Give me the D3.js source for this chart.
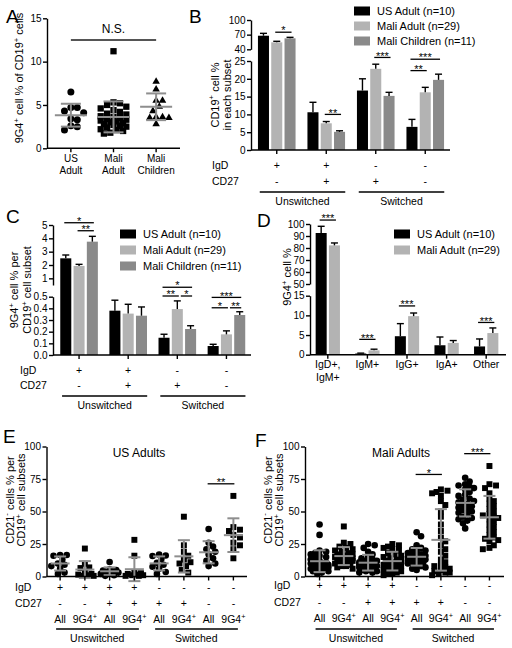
<!DOCTYPE html>
<html><head><meta charset="utf-8">
<script src="https://cdn.jsdelivr.net/npm/d3@7"></script>
<style>body{margin:0;background:#fff}svg{display:block}</style>
</head><body><svg id="c" width="512" height="648"></svg>
<script>
// ---------------- DATA ----------------
// Panel A
const catsA = ["US|Adult", "Mali|Adult", "Mali|Children"];
const aUS = [6.5, 4.7, 4.7, 4.3, 4.1, 3.4, 3.3, 2.6, 2.5, 2.1];
const aMaliAdult = [11.2, 5.3, 5.2, 5.0, 4.8, 4.6, 4.4, 4.2, 4.0, 3.9, 3.7, 3.6, 3.5, 3.4, 3.3, 3.2, 3.1, 3.0, 2.9, 2.8, 2.7, 2.6, 2.5, 2.4, 2.2, 2.1, 2.0, 1.8, 1.7];
const aMaliChild = [7.8, 6.9, 5.6, 5.6, 4.9, 4.4, 3.7, 3.6, 3.7, 3.6, 2.9];
const ticksA = [0, 5, 10, 15];

// Shared series / subsets
const seriesNames = ["US Adult (n=10)", "Mali Adult (n=29)", "Mali Children (n=11)"];
const seriesColors = ["#000000", "#b3b3b3", "#8a8a8a"];
const subsets = ["IgD+CD27-", "IgD+CD27+", "IgD-CD27+", "IgD-CD27-"];
const igdRow = ["+", "+", "-", "-"];
const cd27Row = ["-", "+", "+", "-"];

// Panel B
const bUS = [67.8, 10.6, 16.7, 6.5], bUSerr = [4.9, 2.8, 3.3, 2.1];
const bMaliAdult = [54.3, 7.5, 22.8, 16.2], bMaliAdultErr = [2.1, 0.5, 1.3, 1.4];
const bMaliChild = [62.5, 5.1, 15.2, 19.7], bMaliChildErr = [2.0, 0.3, 1.0, 1.6];
const ticksBbot = [0, 5, 10, 15, 20, 25], ticksBtop = [40, 70, 100];
const sigB = [{g:0,a:1,b:2,v:75,s:1,t:"*"},{g:1,a:1,b:2,v:10.0,s:0,t:"**"},{g:2,a:1,b:2,v:26.0,s:0,t:"***"},
              {g:3,a:0,b:2,v:25.5,s:0,t:"***"},{g:3,a:0,b:1,v:22.3,s:0,t:"**"}];

// Panel C
const cUS = [2.5, 0.38, 0.148, 0.077], cUSerr = [0.25, 0.09, 0.03, 0.015];
const cMaliAdult = [1.93, 0.355, 0.394, 0.177], cMaliAdultErr = [0.12, 0.08, 0.07, 0.03];
const cMaliChild = [3.75, 0.337, 0.223, 0.343], cMaliChildErr = [0.4, 0.075, 0.028, 0.028];
const ticksCbot = [0, 0.1, 0.2, 0.3, 0.4, 0.5], ticksCtop = [1, 2, 3, 4, 5];
const sigC = [{g:0,a:0,b:2,v:5.17,s:1,t:"*"},{g:0,a:1,b:2,v:4.57,s:1,t:"**"},
              {g:2,a:0,b:2,v:0.581,s:0,t:"*"},{g:2,a:0,b:1,v:0.506,s:0,t:"**"},{g:2,a:1,b:2,v:0.506,s:0,t:"*"},
              {g:3,a:0,b:2,v:0.494,s:0,t:"***"},{g:3,a:0,b:1,v:0.405,s:0,t:"*"},{g:3,a:1,b:2,v:0.405,s:0,t:"**"}];

// Panel D
const isotypes = ["IgD+,|IgM+", "IgM+", "IgG+", "IgA+", "Other"];
const dUS = [92.5, 0.3, 4.7, 2.4, 2.1], dUSerr = [5.6, 0.1, 3.2, 2.1, 1.9];
const dMaliAdult = [82.2, 1.1, 9.8, 3.0, 5.5], dMaliAdultErr = [2.0, 0.3, 0.8, 0.6, 1.3];
const ticksDbot = [0, 5, 10, 15], ticksDtop = [50, 60, 70, 80, 90, 100];
const sigD = [{g:0,a:0,b:1,v:103.3,s:1,t:"***"},{g:1,a:0,b:1,v:3.9,s:0,t:"***"},
              {g:2,a:0,b:1,v:12.4,s:0,t:"***"},{g:4,a:0,b:1,v:8.2,s:0,t:"***"}];

// Panels E / F
const cellCats = ["c1","c2","c3","c4","c5","c6","c7","c8"];
const igdRowEF = ["+","+","+","+","-","-","-","-"];
const cd27RowEF = ["-","-","+","+","+","+","-","-"];
const subsetRowEF = ["All","9G4+","All","9G4+","All","9G4+","All","9G4+"];
const ticksEF = [0, 25, 50, 75, 100];
const eUS1 = [16.5,16.5,16.0,13,10,9,8,6,3,2];
const eUS2 = [21.5,9.8,7.0,6.5,3.0,2.0,1.5,1.0,0.5,0.5];
const eUS3 = [11.2,5.5,5.0,4.5,4.0,3.5,3.0,2.0,1.0,0.5];
const eUS4 = [28.2,16,3,2.5,2,1.5,1,1,0.5,0.5];
const eUS5 = [16.8,16.2,15.8,13.5,10.5,9,7.5,6,3.5,2];
const eUS6 = [46,24,19,16,13,11,10,8,5,3];
const eUS7 = [36.5,26,23,21,19,17,14,12,10,8];
const eUS8 = [62,38,36,35,32,30,26,24,21,14];
const fMali1 = [40,32,20,19,18,17,16,15,14,13,12,11,11,10,10,9,9,8,8,7,7,6,6,5,5,4,4,3,2];
const fMali2 = [38.5,26,25,23,22,21,20,19,18,17,17,16,16,15,15,14,14,13,13,12,12,11,10,10,9,8,8,7,6];
const fMali3 = [25,24,22,19,17,15,14,13,12,12,11,11,10,10,9,9,9,8,8,7,7,6,6,5,5,4,4,3,3];
const fMali4 = [25,24,23,22,21,20,18,17,16,15,14,13,12,12,11,10,10,9,8,8,7,6,5,5,4,3,2,2,1];
const fMali5 = [34,31,24,22,21,20,19,18,17,17,16,16,15,15,14,14,13,13,12,12,11,11,10,10,9,8,7,6,5];
const fMali6 = [67,66,65,64,62,58,55,50,46,40,35,30,27,24,21,19,16,13,11,9,8,7,6,5,4,3,3,2,1];
const fMali7 = [76,73,71,70,69,68,67,65,63,62,60,59,58,57,56,55,54,53,52,51,50,49,48,46,45,44,43,41,37];
const fMali8 = [85,71,70,68,64,60,58,56,54,52,50,48,47,46,45,44,42,40,38,36,34,32,30,29,28,27,24,22,21];
const sigE = [{a:6,b:7,v:71.3,t:"**"}];
const sigF = [{a:4,b:5,v:78.5,t:"*"},{a:6,b:7,v:94.5,t:"***"}];

// ---------------- DRAWING ----------------
const FONT = '"Liberation Sans", Arial, Helvetica, sans-serif';
const svg = d3.select("#c").attr("font-family", FONT);
const GRAY = "#8e8e8e";

function rich(t, parts, fs) {
  let prevSup = false;
  parts.forEach(p => {
    const sup = p.startsWith("^"); const s = sup ? p.slice(1) : p;
    const ts = t.append("tspan").text(s);
    if (sup) ts.attr("font-size", fs * 0.7).attr("dy", -fs * 0.38);
    else if (prevSup) ts.attr("dy", fs * 0.38);
    prevSup = sup;
  });
  return t;
}
function txt(x, y, s, fs, anchor) {
  return svg.append("text").attr("x", x).attr("y", y).attr("font-size", fs)
    .attr("text-anchor", anchor || "start").attr("fill", "#000").text(s);
}
function vTitle(x, y, parts, fs) {
  const t = svg.append("text").attr("transform", `translate(${x},${y}) rotate(-90)`)
    .attr("text-anchor", "middle").attr("font-size", fs).attr("fill", "#000");
  rich(t, parts, fs);
}
function supLabel(x, y, s, fs, anchor) {
  const t = svg.append("text").attr("x", x).attr("y", y).attr("font-size", fs)
    .attr("text-anchor", anchor || "middle").attr("fill", "#000");
  const parts = s.endsWith("+") && s.length > 1 ? [s.slice(0, -1), "^+"] : [s];
  rich(t, parts, fs);
}
function yAxis(x, scale, ticks, fmt) {
  const ax = d3.axisLeft(scale).tickValues(ticks).tickSize(4).tickSizeOuter(0).tickPadding(1.5);
  if (fmt) ax.tickFormat(fmt);
  const a = svg.append("g").attr("transform", `translate(${x},0)`).call(ax)
    .attr("font-family", FONT).attr("font-size", 10);
  a.select(".domain").attr("stroke", "#000").attr("stroke-width", 1.4);
  a.selectAll(".tick line").attr("stroke", "#000").attr("stroke-width", 1.4);
  a.selectAll(".tick text").attr("fill", "#000");
}
function hline(x1, x2, y, color, w) {
  svg.append("line").attr("x1", x1).attr("x2", x2).attr("y1", y).attr("y2", y)
    .attr("stroke", color || "#000").attr("stroke-width", w || 1.4);
}
function vline(x, y1, y2, color, w) {
  svg.append("line").attr("x1", x).attr("x2", x).attr("y1", y1).attr("y2", y2)
    .attr("stroke", color || "#000").attr("stroke-width", w || 1.4);
}
function sigMark(x1, x2, y, t, fs) {
  hline(x1, x2, y, "#000", 1.3);
  txt((x1 + x2) / 2, y + 2.2, t, fs || 11, "middle");
}
function legend(x, y0, names, colors, gap) {
  names.forEach((n, i) => {
    const cy = y0 + i * gap;
    svg.append("rect").attr("x", x).attr("y", cy - 4.5).attr("width", 16).attr("height", 9).attr("fill", colors[i]);
    txt(x + 23, cy + 4, n, 11);
  });
}
function panelLetter(x, y, s) { txt(x, y, s, 19); }

// -------- bar panel --------
function barPanel(cfg) {
  const x = d3.scaleBand().domain(cfg.groups).range(cfg.xRange);
  const xs = d3.scaleBand().domain(d3.range(cfg.vals.length)).range(cfg.subRange).paddingInner(0.17);
  const bot = d3.scaleLinear().domain(cfg.botDomain).range(cfg.botRange);
  const top = d3.scaleLinear().domain(cfg.topDomain).range(cfg.topRange);
  const segs = [bot, top];
  const y = v => {
    if (v <= cfg.botDomain[1]) return bot(v);
    if (v >= cfg.topDomain[0]) return top(v);
    const f = (v - cfg.botDomain[1]) / (cfg.topDomain[0] - cfg.botDomain[1]);
    return cfg.botRange[1] + f * (cfg.topRange[0] - cfg.botRange[1]);
  };
  const cx = (g, s) => x(cfg.groups[g]) + x.bandwidth() / 2 + xs(s) + xs.bandwidth() / 2;
  cfg.vals.forEach((vals, s) => {
    vals.forEach((v, g) => {
      const c = cx(g, s), w = xs.bandwidth();
      svg.append("rect").attr("x", c - w / 2).attr("y", y(v)).attr("width", w)
        .attr("height", y(0) - y(v)).attr("fill", cfg.colors[s]);
      const e = cfg.errs[s][g];
      vline(c, y(v), y(v + e), "#000", 1.4);
      hline(c - 3.5, c + 3.5, y(v + e), "#000", 1.4);
    });
  });
  yAxis(cfg.axisX, bot, cfg.botTicks, cfg.botFmt);
  yAxis(cfg.axisX, top, cfg.topTicks, cfg.topFmt);
  hline(cfg.axisX, cfg.xRange[1], y(0), "#000", 1.4);
  cfg.groups.forEach(g => vline(x(g) + x.bandwidth() / 2, y(0), y(0) + 4, "#000", 1.4));
  cfg.sigs.forEach(sg => {
    let x1 = cx(sg.g, sg.a) - 1.5, x2 = cx(sg.g, sg.b) + 1.5;
    const shared = cfg.sigs.some(o => o !== sg && o.g === sg.g && o.v === sg.v && o.b === sg.a);
    if (shared) x1 += 5;
    sigMark(x1, x2, segs[sg.s](sg.v), sg.t, 11);
  });
  return { x, cx };
}

// ---- column scatter helpers ----
function swarm(vals, y, d, step, maxOff) {
  const pts = vals.map(v => ({ v, y: y(v) })).sort((a, b) => a.y - b.y);
  const placed = [];
  const nSteps = Math.floor(maxOff / step);
  pts.forEach(p => {
    let best = 0, bestD = -1;
    for (let k = 0; k <= nSteps * 2; k++) {
      const off = k === 0 ? 0 : (k % 2 ? 1 : -1) * Math.ceil(k / 2) * step;
      const md = placed.length ? d3.min(placed, q => Math.hypot(q.x - off, q.y - p.y)) : 1e9;
      if (md >= d) { best = off; bestD = md; break; }
      if (md > bestD) { bestD = md; best = off; }
    }
    p.x = best; placed.push(p);
  });
  return pts;
}
function marker(shape, x, y, size) {
  if (shape === "circle") svg.append("circle").attr("cx", x).attr("cy", y).attr("r", size / 2).attr("fill", "#000");
  else if (shape === "square") svg.append("rect").attr("x", x - size * 0.45).attr("y", y - size * 0.45)
    .attr("width", size * 0.9).attr("height", size * 0.9).attr("fill", "#000");
  else svg.append("path").attr("transform", `translate(${x},${y + 0.8})`)
    .attr("d", d3.symbol(d3.symbolTriangle, size * size * 0.5)()).attr("fill", "#000");
}
function meanSD(cx, vals, y, halfM, halfC) {
  const m = d3.mean(vals), sd = d3.deviation(vals);
  vline(cx, y(m - sd), y(m + sd), GRAY, 2);
  hline(cx - halfC, cx + halfC, y(m + sd), GRAY, 2);
  hline(cx - halfC, cx + halfC, y(m - sd), GRAY, 2);
  hline(cx - halfM, cx + halfM, y(m), GRAY, 2);
}

// ======== Panel A ========
panelLetter(6, 23, "A");
const yA = d3.scaleLinear().domain([0, 15]).range([148.3, 18.3]);
const xA = d3.scalePoint().domain(catsA).range([47, 180]).padding(0.56);
[[aUS, "circle"], [aMaliAdult, "square"], [aMaliChild, "triangle"]].forEach(([vals, shp], i) => {
  const cx = xA(catsA[i]);
  swarm(vals, yA, 6.3, 3.2, 13).forEach(p => marker(shp, cx + p.x, p.y, 7));
  meanSD(cx, vals, yA, 16, 10);
});
yAxis(47, yA, ticksA);
hline(47, 180, yA(0), "#000", 1.4);
catsA.forEach(c => {
  const cx = xA(c);
  vline(cx, yA(0), yA(0) + 4, "#000", 1.4);
  const [l1, l2] = c.split("|");
  txt(cx, 162, l1, 10, "middle"); txt(cx, 173.5, l2, 10, "middle");
});
hline(xA(catsA[0]), xA(catsA[2]), yA(12.5), "#555", 2);
txt(xA(catsA[1]), 33, "N.S.", 12, "middle");
vTitle(23, 78, ["9G4", "^+", " cell % of CD19", "^+", " cells"], 11);

// ======== Panel B ========
panelLetter(189, 23, "B");
const pB = barPanel({
  groups: subsets, xRange: [252, 450], subRange: [-18.8, 18.8], axisX: 251,
  vals: [bUS, bMaliAdult, bMaliChild], errs: [bUSerr, bMaliAdultErr, bMaliChildErr], colors: seriesColors,
  botDomain: [0, 25], botRange: [150, 61], topDomain: [40, 100], topRange: [49.3, 20],
  botTicks: ticksBbot, topTicks: ticksBtop, sigs: sigB
});
legend(354, 11, seriesNames, seriesColors, 15);
vTitle(218.5, 95, ["CD19", "^+", " cell %"], 11);
vTitle(231, 95, ["in each subset"], 11);
function rowLabels(p, xl, y1, y2, yl, yname) {
  txt(xl, y1, "IgD", 10.5); txt(xl, y2, "CD27", 10.5);
  subsets.forEach((s, i) => {
    const c = p.x(s) + p.x.bandwidth() / 2;
    txt(c, y1, igdRow[i], 10.5, "middle"); txt(c, y2, cd27Row[i], 10.5, "middle");
  });
  const c = i => p.x(subsets[i]) + p.x.bandwidth() / 2;
  hline(c(0) - 17, c(1) + 19, yl, "#000", 1.3);
  hline(c(2) - 17, c(3) + 19, yl, "#000", 1.3);
  txt((c(0) + c(1)) / 2 + 1, yname, "Unswitched", 10.5, "middle");
  txt((c(2) + c(3)) / 2 + 1, yname, "Switched", 10.5, "middle");
}
rowLabels(pB, 212, 168.5, 184.5, 192, 205);

// ======== Panel C ========
panelLetter(6, 223, "C");
const pC = barPanel({
  groups: subsets, xRange: [54.5, 251], subRange: [-18.8, 18.8], axisX: 53,
  vals: [cUS, cMaliAdult, cMaliChild], errs: [cUSerr, cMaliAdultErr, cMaliChildErr], colors: seriesColors,
  botDomain: [0, 0.5], botRange: [355, 296.7], topDomain: [0.5, 5], topRange: [285, 225],
  botTicks: ticksCbot, topTicks: ticksCtop, botFmt: d3.format(".1f"), topFmt: d3.format("d"), sigs: sigC
});
legend(120, 234, seriesNames, seriesColors, 16);
vTitle(18, 290, ["9G4", "^+", " cell % per"], 11);
vTitle(31, 290, ["CD19", "^+", " cell subset"], 11);
rowLabels(pC, 20, 374, 389, 396, 409);

// ======== Panel D ========
panelLetter(257, 227, "D");
const pD = barPanel({
  groups: isotypes, xRange: [308, 506], subRange: [-12.15, 12.15], axisX: 310,
  vals: [dUS, dMaliAdult], errs: [dUSerr, dMaliAdultErr], colors: seriesColors.slice(0, 2),
  botDomain: [0, 15], botRange: [354.7, 295.7], topDomain: [50, 100], topRange: [284, 224],
  botTicks: ticksDbot, topTicks: ticksDtop, sigs: sigD
});
legend(394, 234, seriesNames.slice(0, 2), seriesColors.slice(0, 2), 16);
vTitle(291, 277, ["9G4", "^+", "  cell %"], 11);
isotypes.forEach(c => {
  const cx = pD.x(c) + pD.x.bandwidth() / 2;
  const lines = c.split("|");
  txt(cx, 368, lines[0], 10.5, "middle");
  if (lines[1]) txt(cx, 380.5, lines[1], 10.5, "middle");
});

// ======== Panels E & F ========
function cellPanel(cfg) {
  const y = d3.scaleLinear().domain([0, 100]).range([576.5, 446.5]);
  const x = d3.scalePoint().domain(cellCats).range(cfg.xRange).padding(cfg.pad);
  cfg.data.forEach((vals, i) => {
    const cx = x(cellCats[i]);
    const shp = i % 2 === 0 ? "circle" : "square";
    swarm(vals, y, cfg.coll, 2.2, cfg.maxOff).forEach(p => marker(shp, cx + p.x, p.y, 6.6));
  });
  cfg.data.forEach((vals, i) => meanSD(x(cellCats[i]), vals, y, 9.5, 6));
  yAxis(cfg.xRange[0], y, ticksEF);
  hline(cfg.xRange[0], cfg.xRange[1], y(0), "#000", 1.4);
  cellCats.forEach((c, i) => {
    const cx = x(c);
    vline(cx, y(0), y(0) + 4, "#000", 1.4);
    txt(cx, cfg.rowY[0], igdRowEF[i], 10.5, "middle");
    txt(cx, cfg.rowY[1], cd27RowEF[i], 10.5, "middle");
    supLabel(cx, cfg.rowY[2], subsetRowEF[i], 10.5, "middle");
  });
  txt(cfg.labelX, cfg.rowY[0], "IgD", 10.5);
  txt(cfg.labelX, cfg.rowY[1], "CD27", 10.5);
  const c = i => x(cellCats[i]);
  hline(c(0) - 4, c(3) + 4.5, 629, "#000", 1.3);
  hline(c(4) - 4, c(7) + 4.5, 629, "#000", 1.3);
  txt((c(0) + c(3)) / 2, 642, "Unswitched", 10.5, "middle");
  txt((c(4) + c(7)) / 2, 642, "Switched", 10.5, "middle");
  cfg.sigs.forEach(s => sigMark(c(s.a) - 1, c(s.b) + 1, y(s.v), s.t, 11));
  txt(cfg.titleX, 457, cfg.title, 12, "middle");
  vTitle(cfg.yt[0], 500, ["CD21", "^-", " cells % per"], 11);
  vTitle(cfg.yt[1], 500, ["CD19", "^+", " cell subsets"], 11);
}
panelLetter(3, 443, "E");
cellPanel({ data: [eUS1, eUS2, eUS3, eUS4, eUS5, eUS6, eUS7, eUS8], xRange: [46.5, 247], pad: 0.55,
  coll: 5.5, maxOff: 9, rowY: [591, 607, 622.5], labelX: 15, sigs: sigE, title: "US Adults", titleX: 139, yt: [13.5, 25] });
panelLetter(255, 447, "F");
cellPanel({ data: [fMali1, fMali2, fMali3, fMali4, fMali5, fMali6, fMali7, fMali8], xRange: [305, 504], pad: 0.6,
  coll: 5, maxOff: 10, rowY: [589, 606, 622], labelX: 274, sigs: sigF, title: "Mali Adults", titleX: 401, yt: [271.5, 283] });
</script></body></html>
